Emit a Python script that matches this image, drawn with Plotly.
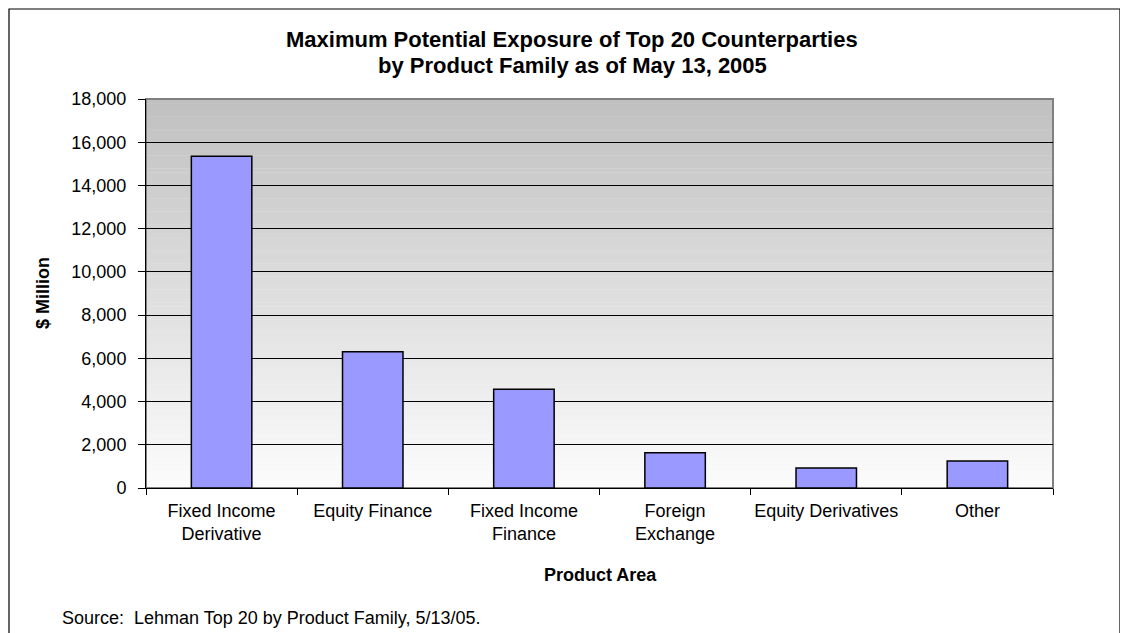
import plotly.graph_objects as go

categories = ["Fixed Income<br>Derivative", "Equity Finance", "Fixed Income<br>Finance",
              "Foreign<br>Exchange", "Equity Derivatives", "Other"]
values = [15350, 6300, 4570, 1630, 920, 1250]
y_ticks = [0, 2000, 4000, 6000, 8000, 10000, 12000, 14000, 16000, 18000]

# page body has an 8px margin, so figure pixel = screen pixel - 8
OFF = 8
W, H = 1128 - OFF, 633 - OFF
PL, PR, PT, PB = 146, 1053, 99, 488          # plot area in screen pixels
ML, MR, MT, MB = PL - OFF, W - (PR - OFF), PT - OFF, H - (PB - OFF)
PW, PH = W - ML - MR, H - MT - MB

def px(x):
    return (x - OFF - ML) / PW

def py(y):
    return 1 - (y - OFF - MT) / PH

FONT = "Arial, Liberation Sans, sans-serif"

fig = go.Figure()
fig.add_trace(go.Bar(
    x=categories, y=values, width=0.40,
    marker=dict(color="#9999FF", line=dict(color="#000000", width=1.5)),
    hoverinfo="x+y",
))

shapes = []
N = 90
for i in range(N):
    t = (i + 0.5) / N
    c = int(round(192 + (252 - 192) * t))
    shapes.append(dict(type="rect", xref="x domain", yref="y domain",
                       x0=0, x1=1, y0=1 - (i + 1) / N - 0.001, y1=1 - i / N,
                       fillcolor=f"rgb({c},{c},{c})", line=dict(width=0), layer="below"))
shapes.append(dict(type="rect", xref="x domain", yref="y domain", x0=0, x1=1, y0=0, y1=1,
                   line=dict(color="#808080", width=2), fillcolor="rgba(0,0,0,0)", layer="below"))
# outer chart frame (left, top, right edges)
shapes.append(dict(type="rect", xref="paper", yref="paper",
                   x0=px(OFF + 1), x1=px(1120), y0=py(660), y1=py(OFF + 1),
                   line=dict(color="#000000", width=1.2), fillcolor="rgba(0,0,0,0)", layer="above"))

annotations = [
    dict(text="<b>Maximum Potential Exposure of Top 20 Counterparties</b>",
         xref="paper", yref="paper", x=px(572), y=py(40), showarrow=False,
         font=dict(family=FONT, size=22, color="#000"), xanchor="center", yanchor="middle"),
    dict(text="<b>by Product Family as of May 13, 2005</b>",
         xref="paper", yref="paper", x=px(572), y=py(66), showarrow=False,
         font=dict(family=FONT, size=22, color="#000"), xanchor="center", yanchor="middle"),
    dict(text="<b>$ Million</b>", textangle=-90,
         xref="paper", yref="paper", x=px(43), y=py(293), showarrow=False,
         font=dict(family=FONT, size=18, color="#000"), xanchor="center", yanchor="middle"),
    dict(text="<b>Product Area</b>",
         xref="paper", yref="paper", x=px(600), y=py(575), showarrow=False,
         font=dict(family=FONT, size=18, color="#000"), xanchor="center", yanchor="middle"),
    dict(text="Source:  Lehman Top 20 by Product Family, 5/13/05.",
         xref="paper", yref="paper", x=px(60), y=py(618), showarrow=False,
         font=dict(family=FONT, size=18, color="#000"), xanchor="left", yanchor="middle"),
]

fig.update_layout(
    width=W, height=H,
    margin=dict(l=ML, r=MR, t=MT, b=MB, pad=0),
    paper_bgcolor="#FFFFFF", plot_bgcolor="#FFFFFF",
    showlegend=False,
    font=dict(family=FONT, size=18, color="#000"),
    shapes=shapes, annotations=annotations,
)
fig.update_yaxes(range=[0, 18000], tickvals=y_ticks, tickformat=",",
                 showgrid=True, gridcolor="#000000", gridwidth=1,
                 showline=True, linecolor="#000000", linewidth=1,
                 ticks="outside", ticklen=7, tickcolor="#000000",
                 ticklabelstandoff=8,
                 tickfont=dict(family=FONT, size=18), zeroline=False, fixedrange=True)
fig.update_xaxes(type="category", tickson="boundaries", tickangle=0,
                 showline=True, linecolor="#000000", linewidth=1,
                 ticks="outside", ticklen=6, tickcolor="#000000",
                 ticklabelstandoff=6,
                 tickfont=dict(family=FONT, size=18), showgrid=False, fixedrange=True)

fig.write_html("out.html")
